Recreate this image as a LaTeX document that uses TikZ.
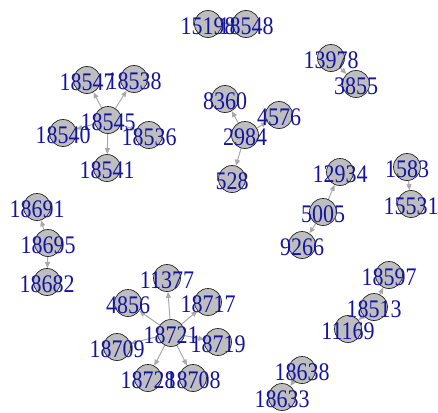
\documentclass[tikz,border=0pt]{standalone}
\usepackage{graphicx}
\usepackage{fontspec}
\setmainfont{Liberation Serif}
\usetikzlibrary{arrows.meta}
\pgfdeclarelayer{bg}
\pgfdeclarelayer{fg}
\pgfsetlayers{bg,main,fg}
\definecolor{vfill}{HTML}{BEBEBE}
\definecolor{ecol}{HTML}{A9A9A9}
\definecolor{lcol}{HTML}{1414A0}
\begin{document}
\begin{tikzpicture}[x=1pt,y=-1pt,
  vtx/.style={circle,draw=black!85,line width=0.7pt,fill=vfill,minimum size=27pt,inner sep=0pt},
  lbl/.style={text=lcol,inner sep=0pt,font=\fontsize{22}{22}\selectfont,yshift=-2pt},
  edg/.style={draw=ecol,line width=1pt,-{Triangle[length=6pt,width=5pt]}}]
\useasboundingbox (0,0) rectangle (438,412);
\foreach \n/\x/\y in {15198/208/24,18548/246/24,13978/331/58,3855/356/84,
  18547/87/80,18538/134/79,18545/108/120,18540/63/133,18536/149/135,18541/107/168,
  8360/225/99,4576/279/115,2984/245/135,528/232/179,
  12934/340/172,5005/323/212,9266/302/245,1583/407/167,15531/411/204,
  18691/37/207,18695/48/243,18682/47/282,
  11377/167/278,4856/128/303,18717/208/302,18721/171/333,18709/117/347,18719/218/342,18728/148/378,18708/193/378,
  18597/389/275,18513/374/307,11169/348/329,18638/302/370,18633/282/397}
  \node[vtx] (v\n) at (\x,\y) {};
\begin{pgfonlayer}{bg}
\foreach \a/\b in {18545/18547,18545/18538,18545/18541,18545/18540,18545/18536,
  15198/18548,13978/3855,2984/8360,2984/4576,2984/528,5005/12934,5005/9266,
  1583/15531,18695/18691,18695/18682,
  18721/11377,18721/4856,18721/18717,18721/18709,18721/18719,18721/18728,18721/18708,
  18513/18597,18513/11169,18638/18633}
  \draw[edg] (v\a) -- (v\b);
\end{pgfonlayer}
\begin{pgfonlayer}{fg}
\foreach \n in {15198,18548,13978,3855,18547,18538,18545,18540,18536,18541,
  8360,4576,2984,528,12934,5005,9266,1583,15531,18691,18695,18682,
  11377,4856,18717,18721,18709,18719,18728,18708,18597,18513,11169,18638,18633}
  \node[lbl] (t\n) at (v\n.center) {\scalebox{1}[1.15]{\n}};
\end{pgfonlayer}
\end{tikzpicture}
\end{document}
